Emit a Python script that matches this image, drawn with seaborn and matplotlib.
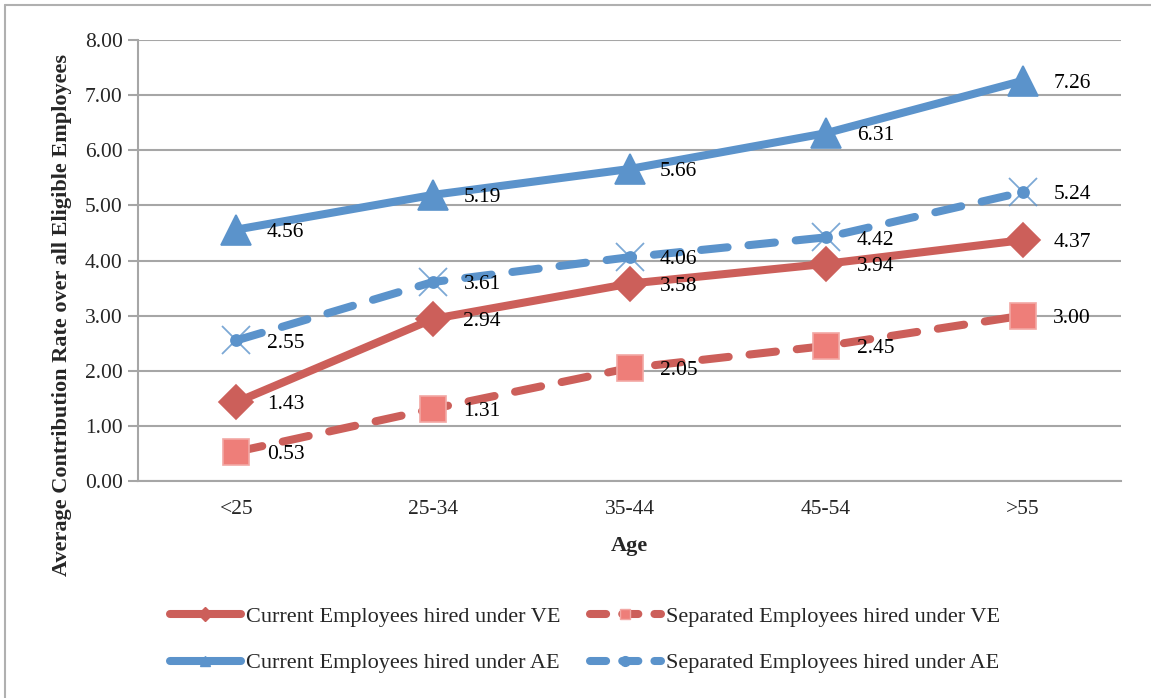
import numpy as np
import pandas as pd
import matplotlib
matplotlib.use("Agg")
import matplotlib.pyplot as plt
from matplotlib.lines import Line2D
import seaborn as sns

# Age groups and average contribution rates
age_groups = ["<25", "25-34", "35-44", "45-54", ">55"]
current_ve = [1.43, 2.94, 3.58, 3.94, 4.37]
separated_ve = [0.53, 1.31, 2.05, 2.45, 3.00]
current_ae = [4.56, 5.19, 5.66, 6.31, 7.26]
separated_ae = [2.55, 3.61, 4.06, 4.42, 5.24]
y_ticks = [0, 1, 2, 3, 4, 5, 6, 7, 8]

series_names = [
    "Current Employees hired under VE",
    "Separated Employees hired under VE",
    "Current Employees hired under AE",
    "Separated Employees hired under AE",
]
series_values = [current_ve, separated_ve, current_ae, separated_ae]

sns.set_theme(style="white")
plt.rcParams["font.family"] = ["Liberation Serif", "DejaVu Serif"]

RED = "#CC5F5A"
BLUE = "#5B93CB"
GRID = "#A6A6A6"

rows = []
for name, vals in zip(series_names, series_values):
    for i, (g, v) in enumerate(zip(age_groups, vals)):
        rows.append({"series": name, "pos": i, "age": g, "rate": v})
df = pd.DataFrame(rows)

fig = plt.figure(figsize=(11.51, 6.98), dpi=100)
ax = fig.add_axes([138 / 1151, 1 - 481 / 698, (1121 - 138) / 1151, (481 - 40) / 698])

styles = {
    series_names[0]: dict(color=RED, dashed=False, marker="D", ms=17, mfc=RED, mec=RED),
    series_names[1]: dict(color=RED, dashed=True, marker="s", ms=19, mfc="#EE7E79", mec="#F2A8A4"),
    series_names[2]: dict(color=BLUE, dashed=False, marker="^", ms=22, mfc=BLUE, mec=BLUE),
    series_names[3]: dict(color=BLUE, dashed=True, marker="o", ms=8, mfc=BLUE, mec=BLUE),
}

lw = 5.8
for name in series_names:
    st = styles[name]
    sub = df[df["series"] == name]
    sns.lineplot(data=sub, x="pos", y="rate", ax=ax, color=st["color"], linewidth=lw,
                 legend=False, sort=False, zorder=3)
    line = ax.lines[-1]
    line.set_solid_capstyle("round")
    if st["dashed"]:
        line.set_dashes((3.3, 2.6))
        line.set_dash_capstyle("round")
    # markers drawn from the same data
    ax.plot(sub["pos"], sub["rate"], linestyle="none", marker=st["marker"], ms=st["ms"],
            mfc=st["mfc"], mec=st["mec"], mew=1.2, zorder=4)
    if name == series_names[3]:
        ax.plot(sub["pos"], sub["rate"], linestyle="none", marker="x", ms=20,
                mec=BLUE, mew=1.3, alpha=0.8, zorder=4)
    for x, y in zip(sub["pos"], sub["rate"]):
        ax.annotate(f"{y:.2f}", (x, y), xytext=(22, -2), textcoords="offset points",
                    ha="left", va="center", fontsize=15.5, color="black", zorder=5)

ax.set_xlim(-0.5, len(age_groups) - 0.5)
ax.set_ylim(0, 8)
ax.set_yticks(y_ticks)
ax.set_yticklabels([f"{t:.2f}" for t in y_ticks], fontsize=15.5)
ax.set_xticks(range(len(age_groups)))
ax.set_xticklabels(age_groups, fontsize=15.5)
ax.tick_params(axis="x", length=0, pad=14)
ax.set_xticks(np.arange(-0.5, len(age_groups)), minor=True)
ax.tick_params(axis="x", which="minor", length=7, width=1.5, color=GRID, direction="out")
ax.tick_params(axis="y", length=7, width=1.5, color=GRID, direction="out", left=True, pad=4)

ax.yaxis.grid(True, color=GRID, linewidth=1.5)
ax.xaxis.grid(False)
ax.set_axisbelow(True)
for s in ["top", "right"]:
    ax.spines[s].set_visible(False)
for s in ["left", "bottom"]:
    ax.spines[s].set_color(GRID)
    ax.spines[s].set_linewidth(1.5)

ax.set_xlabel("Age", fontsize=16, fontweight="bold", labelpad=12)
ax.set_ylabel("Average Contribution Rate over all Eligible Employees", fontsize=16,
              fontweight="bold")
ax.yaxis.set_label_coords((72 - 138) / 983, (481 - 315) / 441)

# Legend
handles = []
for name in [series_names[0], series_names[2], series_names[1], series_names[3]]:
    st = styles[name]
    h = Line2D([], [], color=st["color"], linewidth=lw, linestyle=(0, (2.0, 2.0)) if st["dashed"] else "-",
               marker=st["marker"], ms=7, mfc=st["mfc"], mec=st["mec"], solid_capstyle="round",
               dash_capstyle="round")
    handles.append(h)
labels = [series_names[0], series_names[2], series_names[1], series_names[3]]
leg = fig.legend(handles, labels, loc="center", bbox_to_anchor=(585 / 1151, 1 - 640 / 698),
                 ncol=2, frameon=False, handlelength=3.2, handletextpad=0.25, columnspacing=1.3,
                 labelspacing=1.15, prop={"family": ["Liberation Serif", "DejaVu Serif"], "size": 16})

# chart frame
fig.add_artist(Line2D([5 / 1151, 5 / 1151], [0, 1 - 5 / 698], color="#B0B0B0", lw=1.5, transform=fig.transFigure))
fig.add_artist(Line2D([5 / 1151, 1], [1 - 5 / 698, 1 - 5 / 698], color="#B0B0B0", lw=1.5, transform=fig.transFigure))

fig.savefig("out.png", dpi=100)
